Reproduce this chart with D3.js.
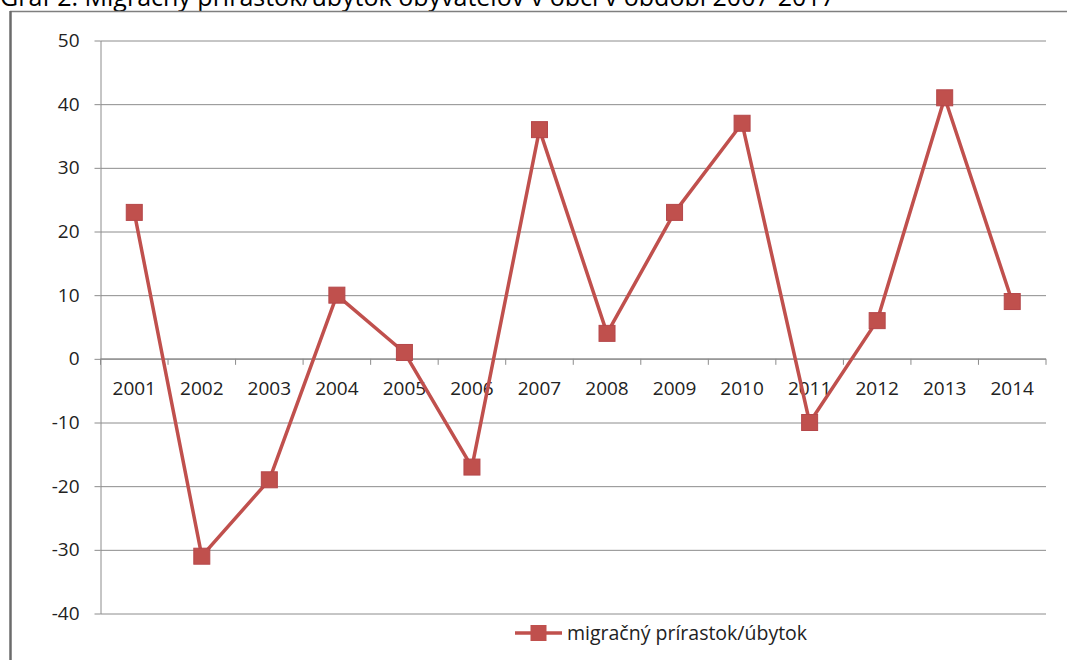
<html>
<head>
<script src="https://d3js.org/d3.v7.min.js"></script>
<style>
  body { margin: 0; background: #fff; }
  text { font-family: "Open Sans", "Liberation Sans", sans-serif; }
</style>
</head>
<body>
<svg id="chart" width="1067" height="660"></svg>
<script>
// data
const years = ['2001','2002','2003','2004','2005','2006','2007','2008','2009','2010','2011','2012','2013','2014']
const values = [23, -31, -19, 10, 1, -17, 36, 4, 23, 37, -10, 6, 41, 9]
const yTicks = [50, 40, 30, 20, 10, 0, -10, -20, -30, -40]
const seriesName = 'migračný prírastok/úbytok'
const title = 'Graf 2: Migračný prírastok/úbytok obyvateľov v obci v období 2007-2017'

const data = years.map((y, i) => ({year: y, value: values[i]}))

const svg = d3.select('svg#chart')
const red = '#C0504D'
const grid = '#8c8c8c'

// title, its top is cut off like in the source image
svg.append('text')
   .attr('x', 0).attr('y', 6)
   .attr('font-size', 25)
   .attr('fill', '#000')
   .text(title)

// chart frame
svg.append('line').attr('x1', 10).attr('x2', 1067).attr('y1', 11.5).attr('y2', 11.5)
   .attr('stroke', '#7f7f7f').attr('stroke-width', 1.5)
svg.append('line').attr('x1', 10.5).attr('x2', 10.5).attr('y1', 11).attr('y2', 660)
   .attr('stroke', '#6b6b6b').attr('stroke-width', 2.5)

const margins = {top: 40.5, left: 100.5, right: 1046, bottom: 613.5}

const xScale = d3.scaleBand().domain(years).range([margins.left, margins.right])
const yScale = d3.scaleLinear().domain([-40, 50]).range([margins.bottom, margins.top])

// horizontal gridlines
svg.append('g')
   .attr('class', 'y grid')
   .attr('transform', `translate(${margins.left},0)`)
   .call(d3.axisLeft(yScale).tickValues(yTicks).tickSize(-(margins.right - margins.left)).tickFormat(''))
   .call(g => g.select('.domain').remove())
   .selectAll('line').attr('stroke', grid).attr('stroke-width', 1)

// y axis with labels (plain hyphen for negatives)
svg.append('g')
   .attr('class', 'y axis')
   .attr('transform', `translate(${margins.left},0)`)
   .call(d3.axisLeft(yScale).tickValues(yTicks).tickSize(6).tickPadding(15).tickSizeOuter(0)
           .tickFormat(d => String(d)))
   .call(g => g.select('.domain').attr('stroke', grid))
   .call(g => g.selectAll('line').attr('stroke', grid))
   .call(g => g.selectAll('text').attr('font-size', 19).attr('fill', '#222').attr('font-family', '"Open Sans", sans-serif'))

// x axis along zero line, ticks between categories
const xAxisG = svg.append('g')
   .attr('class', 'x axis')
   .attr('transform', `translate(0,${yScale(0)})`)
xAxisG.append('line')
   .attr('x1', margins.left).attr('x2', margins.right)
   .attr('stroke', grid)
xAxisG.selectAll('line.tick').data(years.concat(['end']))
   .join('line')
   .attr('class', 'tick')
   .attr('x1', (d, i) => i < years.length ? xScale(d) : margins.right)
   .attr('x2', (d, i) => i < years.length ? xScale(d) : margins.right)
   .attr('y1', 0).attr('y2', 6)
   .attr('stroke', grid)
xAxisG.selectAll('text').data(years)
   .join('text')
   .attr('x', d => xScale(d) + xScale.bandwidth() / 2)
   .attr('y', 36)
   .attr('text-anchor', 'middle')
   .attr('font-size', 19)
   .attr('fill', '#222')
   .text(d => d)

// line
const line = d3.line()
   .x(d => xScale(d.year) + xScale.bandwidth() / 2)
   .y(d => yScale(d.value))

svg.append('path')
   .datum(data)
   .attr('d', line)
   .attr('fill', 'none')
   .attr('stroke', red)
   .attr('stroke-width', 3.5)
   .attr('stroke-linejoin', 'round')

const ms = 16
svg.selectAll('rect.marker').data(data)
   .join('rect')
   .attr('class', 'marker')
   .attr('x', d => xScale(d.year) + xScale.bandwidth() / 2 - ms / 2)
   .attr('y', d => yScale(d.value) - ms / 2)
   .attr('width', ms).attr('height', ms)
   .attr('fill', red)
   .attr('stroke', '#b5474a').attr('stroke-width', 1)

// legend
const legend = svg.append('g').attr('transform', 'translate(515,633)')
legend.append('line').attr('x1', 0).attr('x2', 47).attr('y1', 0).attr('y2', 0)
   .attr('stroke', red).attr('stroke-width', 3.5)
legend.append('rect').attr('x', 23.5 - ms / 2).attr('y', -ms / 2).attr('width', ms).attr('height', ms)
   .attr('fill', red)
legend.append('text').attr('x', 52).attr('y', 7)
   .attr('font-size', 19.5).attr('fill', '#222')
   .text(seriesName)
</script>
</body>
</html>
